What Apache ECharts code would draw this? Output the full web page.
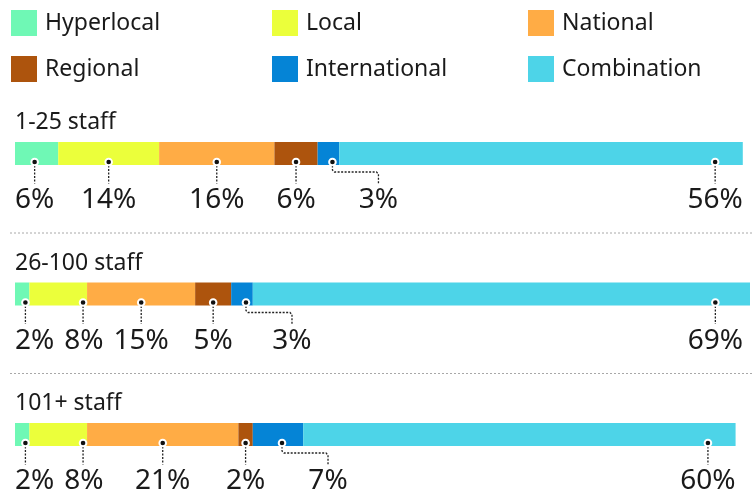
<!DOCTYPE html>
<html><head><meta charset="utf-8">
<script src="https://cdn.jsdelivr.net/npm/echarts@6/dist/echarts.min.js"></script>
<style>html,body{margin:0;padding:0;background:#fff}#c{width:754px;height:492px}</style>
</head><body><div id="c"></div>
<script>
// ---- data ----
const categories = ['1-25 staff', '26-100 staff', '101+ staff'];
const seriesNames = ['Hyperlocal', 'Local', 'National', 'Regional', 'International', 'Combination'];
const hyperlocal    = [6, 2, 2];
const local         = [14, 8, 8];
const national      = [16, 15, 21];
const regional      = [6, 5, 2];
const international = [3, 3, 7];
const combination   = [56, 69, 60];
const seriesValues = [hyperlocal, local, national, regional, international, combination];

// ---- style ----
const colors = ['#6ff8b5', '#ebff3b', '#ffac45', '#ad540d', '#0584d6', '#4dd4e8'];
const FONT = '"Noto Sans"';
const TEXT = '#1a1a1a';
const BAR_W = 23;
const LABEL_SIZE = 28;
const TITLE_SIZE = 23;
const ELBOW_SERIES = 'International'; // label drawn with an elbow leader

const ctx = document.createElement('canvas').getContext('2d');
function measure(t, size) { ctx.font = size + 'px ' + FONT; return ctx.measureText(t).width; }

function renderAnnot(params, api) {
  const i = params.dataIndex;
  const vals = seriesValues.map(a => a[i]);
  const cy = api.coord([0, i])[1];
  let cum = 0;
  const segs = vals.map(v => { const x0 = api.coord([cum, i])[0]; cum += v; const x1 = api.coord([cum, i])[0]; return [x0, x1]; });
  const barStart = segs[0][0], barEnd = segs[segs.length - 1][1];
  const rightLimit = Math.min(barEnd, api.getWidth() - 11);
  const children = [];
  children.push({ type: 'text', style: { x: barStart, y: cy - 31, text: categories[i], fill: TEXT,
    font: TITLE_SIZE + 'px ' + FONT, verticalAlign: 'middle', align: 'left' } });
  if (i < categories.length - 1) {
    children.push({ type: 'line', shape: { x1: 10, y1: cy + 79.5, x2: api.getWidth(), y2: cy + 79.5 },
      style: { stroke: '#a8a8a8', lineWidth: 1, lineDash: [2, 2] } });
  }
  const GAP = 10, ELBOW = 46;
  const dotY = cy + BAR_W / 2 - 3;
  const lineEnd = cy + 30;
  const labelY = cy + 47;
  let prevRight = -Infinity;
  vals.forEach((v, k) => {
    const txt = v + '%';
    const w = measure(txt, LABEL_SIZE);
    const c = (segs[k][0] + segs[k][1]) / 2;
    let left = c - w / 2;
    if (k === 0) left = barStart;
    if (k === vals.length - 1) left = rightLimit - w;
    let pushed = false;
    if (left < prevRight + GAP) { left = prevRight + GAP; pushed = true; }
    let lc = left + w / 2;
    let dx = Math.max(segs[k][0] + 4, Math.min(segs[k][1] - 4, lc));
    let displaced = pushed && (lc - dx > 6);
    if (seriesNames[k] === ELBOW_SERIES) { displaced = true; dx = Math.min(c + 4, segs[k][1] - 4); }
    if (displaced) { lc = Math.max(lc, dx + ELBOW); left = lc - w / 2; }
    prevRight = left + w;
    if (displaced) {
      const yb = dotY + 10;
      children.push({ type: 'polyline', shape: { points: [[dx, dotY], [dx, yb - 2], [dx + 2, yb], [lc - 2, yb], [lc, yb + 2], [lc, lineEnd]] },
        style: { stroke: '#222', lineWidth: 1.3, lineDash: [2, 1.5], fill: null } });
    } else {
      children.push({ type: 'line', shape: { x1: dx, y1: dotY, x2: dx, y2: lineEnd },
        style: { stroke: '#222', lineWidth: 1.3, lineDash: [2, 1.5] } });
    }
    children.push({ type: 'circle', shape: { cx: dx, cy: dotY, r: 3.3 }, style: { fill: '#111', stroke: '#fff', lineWidth: 2 } });
    children.push({ type: 'text', style: { x: lc, y: labelY, text: txt, fill: TEXT, font: LABEL_SIZE + 'px ' + FONT,
      align: 'center', verticalAlign: 'middle' } });
  });
  return { type: 'group', children };
}

const chart = echarts.init(document.getElementById('c'), null, { renderer: 'canvas' });
const series = seriesNames.map((n, k) => ({
  name: n, type: 'bar', stack: 'total', barWidth: BAR_W, data: seriesValues[k],
  itemStyle: { color: colors[k] }, emphasis: { disabled: true }, silent: true
}));
series.push({
  type: 'custom', name: 'annot', renderItem: renderAnnot, z: 10, silent: true,
  data: categories.map((c, i) => [0, i]), encode: { x: 0, y: 1 }
});
chart.setOption({
  animation: false,
  color: colors,
  grid: { left: 15, width: 735, top: 153.5, height: 281 },
  xAxis: { type: 'value', min: 0, max: 102, show: false },
  yAxis: { type: 'category', data: categories, inverse: true, show: false, boundaryGap: false },
  legend: [[0, 3], [1, 4], [2, 5]].map((idx, col) => ({
    data: idx.map(k => ({ name: seriesNames[k], icon: 'rect' })),
    orient: 'vertical', left: [11, 272, 528][col], top: 10,
    itemWidth: 26, itemHeight: 26, itemGap: 20, selectedMode: false, padding: 0,
    textStyle: { fontFamily: FONT, fontSize: TITLE_SIZE, color: TEXT, padding: [0, 0, 0, 3] }
  })),
  series
});
</script></body></html>
